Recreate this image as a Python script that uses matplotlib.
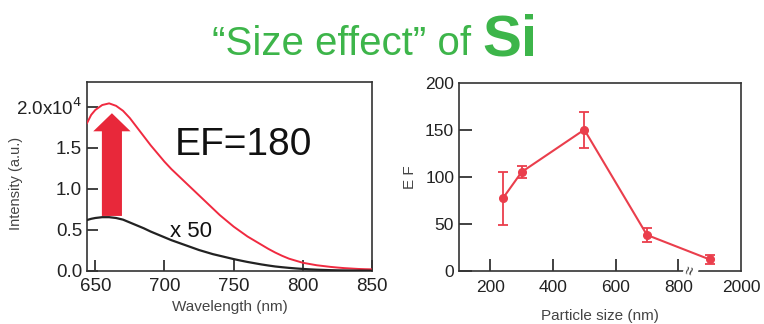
import matplotlib
matplotlib.use("Agg")
from matplotlib import pyplot as plt
from matplotlib.patches import FancyArrow

plt.rcParams['font.family'] = ['Liberation Sans', 'DejaVu Sans']

# --- left panel: spectra ---
wavelength = [644, 647, 650, 655, 660, 665, 670, 675, 680, 685, 690, 695, 700, 705, 710,
              715, 720, 725, 730, 735, 740, 745, 750, 755, 760, 765, 770, 775, 780, 785,
              790, 795, 800, 805, 810, 815, 820, 825, 830, 835, 840, 845, 850]
intensity_si = [1.80, 1.90, 1.96, 2.02, 2.04, 2.01, 1.95, 1.86, 1.75, 1.64, 1.53, 1.43, 1.33,
                1.24, 1.16, 1.08, 1.00, 0.92, 0.84, 0.76, 0.68, 0.61, 0.54, 0.48, 0.42, 0.37,
                0.32, 0.27, 0.225, 0.185, 0.15, 0.125, 0.10, 0.085, 0.07, 0.06, 0.05, 0.042,
                0.035, 0.03, 0.025, 0.022, 0.02]
intensity_ref = [0.62, 0.635, 0.645, 0.655, 0.655, 0.645, 0.625, 0.59, 0.555, 0.52, 0.48,
                 0.445, 0.41, 0.375, 0.345, 0.315, 0.285, 0.255, 0.23, 0.205, 0.185, 0.165,
                 0.145, 0.127, 0.11, 0.095, 0.08, 0.067, 0.055, 0.046, 0.038, 0.031, 0.025,
                 0.02, 0.016, 0.013, 0.01, 0.008, 0.007, 0.006, 0.005, 0.0045, 0.004]
scale = 1e4
left_xticks = [650, 700, 750, 800, 850]
left_yticks = [0.0, 0.5, 1.0, 1.5, 2.0]
left_yticklabels = ["0.0", "0.5", "1.0", "1.5", r"2.0x10$^4$"]

# --- right panel: enhancement factor vs particle size ---
size_pos = [240, 300, 500, 700, 900]          # 900 stands for 2000 nm past the axis break
ef_values = [77, 105, 150, 38, 12]
ef_err = [28, 6, 19, 7.5, 5]
right_xticks = [200, 400, 600, 800, 1000]
right_xticklabels = ["200", "400", "600", "800", "2000"]
right_yticks = [0, 50, 100, 150, 200]

RED = "#f02a40"
GREEN = "#3db54a"
FRAME = "#333333"

fig = plt.figure(figsize=(7.64, 3.24), dpi=100)
fig.patch.set_facecolor("white")

#--------------------------------------------------------------------------------------------------
ax1 = fig.add_axes([0.1139, 0.1636, 0.373, 0.5833])
ax1.plot(wavelength, [v * scale for v in intensity_si], color=RED, lw=1.4, zorder=3)
ax1.plot(wavelength, [v * scale for v in intensity_ref], color="#222222", lw=1.6, zorder=3)
ax1.add_patch(FancyArrow(662, 0.67 * scale, 0, 1.25 * scale, width=14.5, head_width=27,
                         head_length=0.22 * scale, length_includes_head=True,
                         color="#e8283a", lw=0, zorder=2))
ax1.set_xlim(644, 850)
ax1.set_ylim(0, 2.3 * scale)
ax1.set_xticks(left_xticks)
ax1.set_yticks([v * scale for v in left_yticks])
ax1.set_yticklabels(left_yticklabels)
ax1.tick_params(direction="in", length=8, width=1.3, labelsize=13.5, colors=FRAME,
                labelcolor="#222222")
ax1.tick_params(axis="x", pad=5)
ax1.set_xlabel("Wavelength (nm)", fontsize=11, color="#444444", labelpad=4)
ax1.set_ylabel("Intensity (a.u.)", fontsize=10.5, color="#444444")
ax1.yaxis.set_label_coords(-0.225, 0.464)
for sp in ax1.spines.values():
    sp.set_color(FRAME)
    sp.set_linewidth(1.2)
ax1.text(0.55, 0.665, "EF=180", transform=ax1.transAxes, fontsize=28,
         ha="center", va="center", color="#111111")
ax1.text(0.365, 0.21, "x 50", transform=ax1.transAxes, fontsize=16,
         ha="center", va="center", color="#111111")

#--------------------------------------------------------------------------------------------------
ax2 = fig.add_axes([0.6008, 0.1645, 0.369, 0.5803])
ax2.errorbar(size_pos, ef_values, yerr=ef_err, color="#ea3e4c", lw=1.5, marker="o",
             markersize=5.5, capsize=3.5, elinewidth=1.3, capthick=1.3, zorder=3)
ax2.set_xlim(100, 1000)
ax2.set_ylim(0, 200)
ax2.set_xticks(right_xticks)
ax2.set_xticklabels(right_xticklabels)
ax2.set_yticks(right_yticks)
ax2.tick_params(direction="in", length=9, width=1.3, labelsize=12.5, colors=FRAME,
                labelcolor="#222222")
ax2.tick_params(axis="x", pad=7)
ax2.xaxis.get_major_ticks()[-1].tick1line.set_visible(False)
ax2.yaxis.get_major_ticks()[-1].tick1line.set_visible(False)
ax2.set_xlabel("Particle size (nm)", fontsize=11, color="#444444", labelpad=10)
ax2.set_ylabel("E F", fontsize=11, color="#444444", labelpad=6)
for sp in ax2.spines.values():
    sp.set_color(FRAME)
    sp.set_linewidth(1.2)
# axis break marker
ax2.text(840, 0, "≈", rotation=75, fontsize=11, ha="center", va="center", color=FRAME,
         clip_on=False, zorder=5,
         bbox=dict(boxstyle="square,pad=0.02", fc="white", ec="none"))

#--------------------------------------------------------------------------------------------------
fig.text(0.2775, 0.830, "\u201cSize effect\u201d of", fontsize=29, color=GREEN,
         ha="left", va="baseline")
fig.text(0.631, 0.830, "Si", fontsize=42, color=GREEN, fontweight="bold",
         ha="left", va="baseline")

fig.savefig("out.png", dpi=100, facecolor="white")
